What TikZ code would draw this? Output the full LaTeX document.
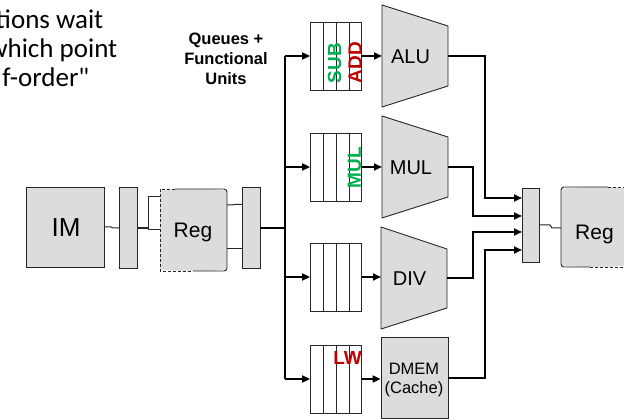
\documentclass[tikz,border=0pt]{standalone}
\usepackage{fontspec}
\setmainfont{Liberation Sans}
\newfontfamily\carlito{Carlito}
\usetikzlibrary{arrows.meta,calc}
\definecolor{boxgray}{RGB}{220,220,220}
\definecolor{insgreen}{RGB}{0,176,80}
\definecolor{insred}{RGB}{192,0,0}
\begin{document}
\begin{tikzpicture}[x=1pt,y=-1pt,
  outl/.style={draw=black!85,line width=0.9pt},
  unitbox/.style={outl,fill=boxgray,inner sep=0pt},
  wire/.style={line width=2pt},
  arr/.style={wire,-{Triangle[length=8pt,width=7pt]}},
  thinw/.style={draw=black!85,line width=1pt},
  lbl/.style={inner sep=0pt,font=\fontsize{20}{24}\selectfont},
  dmemlbl/.style={inner sep=0pt,font=\fontsize{16.5}{20}\selectfont},
  ins/.style={inner sep=0pt,font=\bfseries\fontsize{19}{22}\selectfont},
  note/.style={inner sep=0pt,anchor=base east,font=\carlito\fontsize{27}{30}\selectfont},
  ]
\useasboundingbox (0,0) rectangle (624,419);

% top-left note (cut off at the left edge)
\node[note] (n1) at (103.5,29) {tions wait};
\node[note] (n2) at (117.5,58) {which point};
\node[note] (n3) at (89.5,87) {f-order"};

% heading
\node[inner sep=0pt,align=center,font=\bfseries\fontsize{16.5}{20}\selectfont] (head) at (226,59) {Queues +\\Functional\\Units};

% IM and first latch
\node[unitbox,minimum width=78pt,minimum height=80pt] (im) at (65,227) {};
\node[inner sep=0pt,font=\fontsize{26}{30}\selectfont] (imlbl) at (66,227.5) {IM};
\node[unitbox,minimum width=18pt,minimum height=81pt] (l1) at (128,227.5) {};

% left register file
\fill[boxgray] (160,191) .. controls (175,188) and (212,188) .. (227,191) -- (227,269) .. controls (212,272) and (175,272) .. (160,269) -- cycle;
\draw[outl,rounded corners=3pt] (175,189) -- (227,189) -- (227,271) -- (193,271);
\draw[outl,dash pattern=on 3pt off 2pt] (175,189) -- (160,189) -- (160,271) -- (193,271);
\node[inner sep=0pt,anchor=base,font=\fontsize{21}{24}\selectfont] (reg1) at (193,238) {Reg};

% second latch
\node[unitbox,minimum width=18pt,minimum height=81pt] (l2) at (251,227.5) {};

% thin connectors on the left
\coordinate (imo) at (104,227);
\coordinate (l1i) at (119,228);
\draw[thinw] (imo) -- (111,227) -- (113,228) -- (l1i);
\coordinate (l1o) at (137,228);
\coordinate (br) at (148,228);
\draw[line width=1.5pt,draw=black!85] (l1o) -- (br);
\coordinate (rin1) at (160,197);
\coordinate (rin2) at (160,230);
\draw[thinw] (rin1) -- (148,197) -- (148,230) -- (rin2);
\coordinate (ro1) at (227,205);
\coordinate (ro2) at (227,249);
\draw[thinw] (ro1) -- (233,205) -- (234,204.5) -- (242,204.5);
\draw[thinw] (ro2) -- (242,249);

% bus
\coordinate (l2o) at (260,228);
\coordinate (busmid) at (285,228);
\coordinate (bustop) at (285,56);
\coordinate (busbot) at (285,379);
\draw[wire] (l2o) -- (busmid);
\draw[wire] (bustop) -- (busbot);

% queues
\foreach \n/\y in {q1/56,q2/167,q3/277,q4/379}{
  \node[outl,fill=white,minimum width=51pt,minimum height=68pt,inner sep=0pt] (\n) at (336,\y) {};
  \foreach \f in {0.25,0.5,0.75}
    \draw[outl] ($(\n.north west)!\f!(\n.north east)$) -- ($(\n.south west)!\f!(\n.south east)$);
}
\draw[arr] (bustop) -- (q1.west);
\draw[arr] (bustop |- q2.west) -- (q2.west);
\draw[arr] (bustop |- q3.west) -- (q3.west);
\draw[arr] (busbot) -- (q4.west);

% instructions in queues
\node[ins,text=insgreen,rotate=90] (sub) at (334.5,63) {SUB};
\node[ins,text=insred,rotate=90] (add) at (355,62.5) {ADD};
\node[ins,text=insgreen,rotate=90] (mulins) at (354.5,167.5) {MUL};
\node[ins,text=insred] (lw) at (347.5,357.5) {LW};

% functional units
\draw[outl,fill=boxgray] (382,5) -- (448,26) -- (448,86) -- (382,107) -- cycle;
\draw[outl,fill=boxgray] (382,116) -- (448,137) -- (448,197) -- (382,218) -- cycle;
\draw[outl,fill=boxgray] (381,227) -- (447,249) -- (447,308) -- (381,329) -- cycle;
\node[unitbox,minimum width=67pt,minimum height=81pt] (dmem) at (414.5,377.5) {};
\node[lbl] (alu) at (410.5,57) {ALU};
\node[lbl] (mul) at (411,167.5) {MUL};
\node[lbl] (div) at (409.5,279) {DIV};
\node[dmemlbl] (dmemlbl) at (414,368.5) {DMEM};
\node[dmemlbl,anchor=base] (cache) at (414,394) {(Cache)};

\coordinate (aluin) at (382,56);
\coordinate (mulin) at (382,167);
\coordinate (divin) at (381,277);
\coordinate (aluout) at (448,56);
\coordinate (mulout) at (448,167);
\coordinate (divout) at (447,278);
\coordinate (dmemout) at (448,378);
\draw[arr] (q1.east) -- (aluin);
\draw[arr] (q2.east) -- (mulin);
\draw[arr] (q3.east) -- (divin);
\draw[arr] (q4.east) -- (dmem.west |- q4.east);

% write-back latch
\node[unitbox,minimum width=17pt,minimum height=74pt] (m) at (530.5,225) {};
\coordinate (m1) at (522,198);
\coordinate (m2) at (522,216);
\coordinate (m3) at (522,232);
\coordinate (m4) at (522,250);
\draw[arr] (aluout) -- (485,56) -- (485,198) -- (m1);
\draw[arr] (mulout) -- (473,167) -- (473,216) -- (m2);
\draw[arr] (divout) -- (473,278) -- (473,232) -- (m3);
\draw[arr] (dmemout) -- (485,378) -- (485,250) -- (m4);

% right register file
\fill[boxgray] (561,189) .. controls (576,186) and (613,186) .. (628,189) -- (628,265) .. controls (613,268) and (576,268) .. (561,265) -- cycle;
\draw[outl,rounded corners=3pt] (608,187) -- (561,187) -- (561,267) -- (590,267);
\draw[outl,dash pattern=on 3pt off 2pt] (608,187) -- (628,187) -- (628,267) -- (590,267);
\node[inner sep=0pt,anchor=base,font=\fontsize{21}{24}\selectfont] (reg2) at (594.5,240) {Reg};
\coordinate (mo) at (539,225);
\coordinate (r2in) at (561,228);
\draw[thinw] (mo) -- (550,225) -- (552,228) -- (r2in);
\end{tikzpicture}
\end{document}
